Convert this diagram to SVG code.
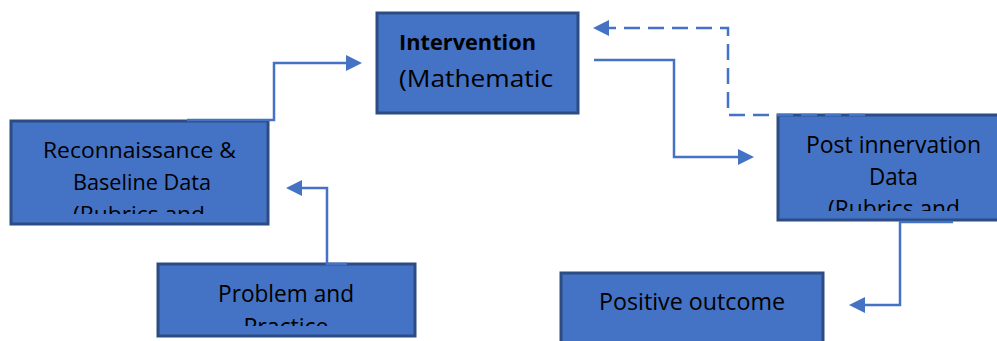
<svg xmlns="http://www.w3.org/2000/svg" width="997" height="341" viewBox="0 0 997 341">
  <style>
    .box { fill: #4472C4; stroke: #2C4C84; stroke-width: 3; }
    .t { font-family: "Open Sans", "Liberation Sans", sans-serif; font-size: 23px; fill: #000; text-anchor: middle; }
    .conn { fill: none; stroke: #4472C4; stroke-width: 2.5; }
    .dash { stroke-dasharray: 16 8; }
  </style>
  <defs>
    <marker id="arrow" markerUnits="userSpaceOnUse" markerWidth="16" markerHeight="16" refX="8" refY="8" orient="auto">
      <path d="M0,0 L16,8 L0,16 Z" fill="#4472C4"/>
    </marker>
    <clipPath id="clipRecon"><rect x="12" y="122" width="255" height="92"/></clipPath>
    <clipPath id="clipPost"><rect x="779" y="116" width="230" height="95"/></clipPath>
    <clipPath id="clipProblem"><rect x="159" y="265" width="255" height="61"/></clipPath>
  </defs>

  <g id="intervention">
    <rect class="box" x="377" y="13" width="201" height="100"/>
    <text x="399" y="50" style="font-family:'Open Sans','Liberation Sans',sans-serif;font-size:21px;font-weight:bold;fill:#000" textLength="137" lengthAdjust="spacingAndGlyphs">Intervention</text>
    <text x="399" y="87" style="font-family:'Open Sans','Liberation Sans',sans-serif;font-size:24px;fill:#000" textLength="154" lengthAdjust="spacingAndGlyphs">(Mathematic</text>
  </g>

  <g id="reconnaissance">
    <rect class="box" x="11" y="121" width="257" height="103"/>
    <g clip-path="url(#clipRecon)">
      <text class="t" x="139.5" y="158" style="font-size:22.5px" textLength="193" lengthAdjust="spacingAndGlyphs">Reconnaissance &amp;</text>
      <text class="t" x="142" y="190" style="font-size:22.5px" textLength="138" lengthAdjust="spacingAndGlyphs">Baseline Data</text>
      <text class="t" x="139" y="222" style="font-size:22.5px" textLength="132" lengthAdjust="spacingAndGlyphs">(Rubrics and</text>
    </g>
  </g>

  <g id="post">
    <rect class="box" x="778" y="115" width="231" height="105"/>
    <g clip-path="url(#clipPost)">
      <text class="t" x="893.5" y="153" textLength="175" lengthAdjust="spacingAndGlyphs">Post innervation</text>
      <text class="t" x="893.5" y="185" textLength="49" lengthAdjust="spacingAndGlyphs">Data</text>
      <text class="t" x="894" y="217" textLength="132" lengthAdjust="spacingAndGlyphs">(Rubrics and</text>
    </g>
  </g>

  <g id="problem">
    <rect class="box" x="158" y="264" width="257" height="72"/>
    <g clip-path="url(#clipProblem)">
      <text class="t" x="286" y="302" textLength="136" lengthAdjust="spacingAndGlyphs">Problem and</text>
      <text class="t" x="286" y="335">Practice</text>
    </g>
  </g>

  <g id="positive">
    <rect class="box" x="561" y="273" width="262" height="80"/>
    <text class="t" x="692" y="310" textLength="186" lengthAdjust="spacingAndGlyphs">Positive outcome</text>
  </g>

  <g id="connectors">
    <path class="conn" d="M187,120 L274,120 L274,63 L354,63" marker-end="url(#arrow)"/>
    <path class="conn" d="M347,264 L327,264 L327,188 L294,188" marker-end="url(#arrow)"/>
    <path class="conn" d="M594,60 L674,60 L674,157 L746,157" marker-end="url(#arrow)"/>
    <path class="conn dash" d="M865,115 L728,115 L728,28 L601,28" marker-end="url(#arrow)"/>
    <path class="conn" d="M953,222 L900,222 L900,305 L857,305" marker-end="url(#arrow)"/>
  </g>
</svg>
